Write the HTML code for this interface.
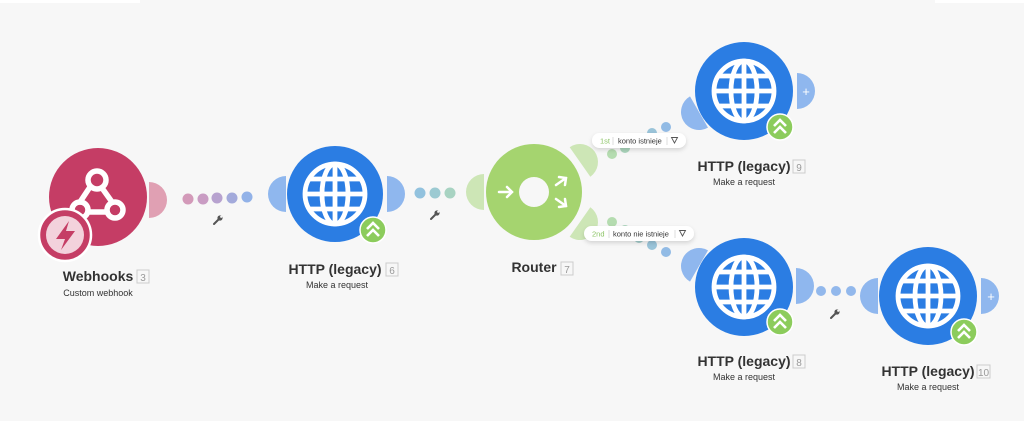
<!DOCTYPE html>
<html><head><meta charset="utf-8"><style>
html,body{margin:0;padding:0;background:#f7f7f7;}
svg{display:block;font-family:"Liberation Sans",sans-serif;}
</style></head><body>
<svg width="1024" height="421" viewBox="0 0 1024 421" xmlns="http://www.w3.org/2000/svg">
<defs>
<g id="globe" fill="none" stroke="#fff" stroke-width="4.8">
<circle r="30"/>
<ellipse rx="13" ry="30"/>
<line x1="0" y1="-30" x2="0" y2="30"/>
<line x1="-30" y1="0" x2="30" y2="0"/>
<line x1="-26" y1="-15" x2="26" y2="-15"/>
<line x1="-26" y1="15" x2="26" y2="15"/>
</g>
<g id="badge">
<circle r="13" fill="#8ccc5c" stroke="#fff" stroke-width="1.5"/>
<path d="M-6,-1 L0,-7 L6,-1 M-6,6 L0,0 L6,6" fill="none" stroke="#fff" stroke-width="2.6"/>
</g>
<g id="wrench"><path d="M-4,4 L1,-1" stroke="#555" stroke-width="2" stroke-linecap="round"/><circle cx="2" cy="-2" r="2.6" fill="#555"/><circle cx="3.2" cy="-3.2" r="1.1" fill="#f7f7f7"/></g>
<path id="ear" d="M0,-18 A18,18 0 0 1 0,18 Z"/>
<filter id="sh" x="-20%" y="-20%" width="140%" height="140%"><feDropShadow dx="0" dy="2" stdDeviation="2" flood-opacity="0.15"/></filter>
</defs>
<rect x="0" y="0" width="140" height="3" fill="#fff"/>
<rect x="935" y="0" width="89" height="3" fill="#fff"/>

<!-- Webhooks -->
<use href="#ear" transform="translate(149,200)" fill="#e0a0b3"/>
<circle cx="98" cy="197" r="49" fill="#c53d65"/>
<g fill="none" stroke="#fff" stroke-width="5.5" stroke-linecap="round">
<circle cx="97" cy="180" r="9"/><circle cx="80" cy="210" r="8"/><circle cx="115" cy="210" r="8"/>
<path d="M90,187 L80,202 M102,188 L112,202 M88,212 L106,212"/>
</g>
<circle cx="65" cy="235" r="26" fill="#c53d65" stroke="#fff" stroke-width="2.5"/>
<circle cx="65" cy="235" r="19" fill="#f3d2dc"/>
<path d="M69,221 L56,239 L65,239 L61,250 L75,231 L66,231 Z" fill="#c53d65"/>
<text x="98" y="281" text-anchor="middle" font-size="14" font-weight="bold" fill="#333">Webhooks</text>
<rect x="137" y="270" width="12" height="13" fill="none" stroke="#ccc"/><text x="143" y="281" text-anchor="middle" font-size="10" fill="#999">3</text>
<text x="98" y="296" text-anchor="middle" font-size="9" fill="#333">Custom webhook</text>
<g><circle cx="188" cy="199" r="5.5" fill="#d39ab9"/><circle cx="203" cy="199" r="5.5" fill="#c99cc3"/><circle cx="217" cy="198" r="5.5" fill="#b7a2cf"/><circle cx="232" cy="198" r="5.5" fill="#a3aadb"/><circle cx="247" cy="197" r="5.5" fill="#92b2e8"/></g>
<use href="#wrench" transform="translate(218,220)"/>

<!-- HTTP 6 -->
<use href="#ear" transform="translate(286,194) scale(-1,1)" fill="#8fb7ee"/>
<use href="#ear" transform="translate(387,194)" fill="#8fb7ee"/>
<circle cx="335" cy="194" r="48" fill="#2b7de3"/>
<use href="#globe" transform="translate(335,194)"/>
<use href="#badge" transform="translate(373,230)"/>
<text x="335" y="274" text-anchor="middle" font-size="14" font-weight="bold" fill="#333">HTTP (legacy)</text>
<rect x="386" y="263" width="12" height="13" fill="none" stroke="#ccc"/><text x="392" y="274" text-anchor="middle" font-size="10" fill="#999">6</text>
<text x="337" y="288" text-anchor="middle" font-size="9" fill="#333">Make a request</text>
<circle cx="420" cy="193" r="5.5" fill="#92c2de"/><circle cx="435" cy="193" r="5.5" fill="#9ccad2"/><circle cx="450" cy="193" r="5.5" fill="#a8d3c2"/>
<use href="#wrench" transform="translate(435,215)"/>

<!-- Router -->
<use href="#ear" transform="translate(484,192) scale(-1,1)" fill="#cde6b6"/>
<use href="#ear" transform="translate(580,162) rotate(-35)" fill="#cde6b6"/>
<use href="#ear" transform="translate(580,222) rotate(35)" fill="#cde6b6"/>
<circle cx="534" cy="192" r="48" fill="#a5d46f"/>
<circle cx="534" cy="192" r="15" fill="#f7f7f7"/>
<g fill="none" stroke="#fff" stroke-width="2.5" stroke-linecap="round">
<path d="M499,192 L512,192 M507,187 L512,192 L507,197"/>
<path d="M556,185 L566,178 M559,177 L566,178 L565,185"/>
<path d="M556,199 L566,206 M565,199 L566,206 L559,207"/>
</g>
<text x="534" y="272" text-anchor="middle" font-size="14" font-weight="bold" fill="#333">Router</text>
<rect x="561" y="262" width="12" height="13" fill="none" stroke="#ccc"/><text x="567" y="273" text-anchor="middle" font-size="10" fill="#999">7</text>

<circle cx="612" cy="154" r="5" fill="#b5dcb0"/><circle cx="625" cy="148" r="5" fill="#abd5bc"/><circle cx="638" cy="140" r="5" fill="#a3cccb"/><circle cx="652" cy="133" r="5" fill="#9ac4d9"/><circle cx="666" cy="127" r="5" fill="#92bbe5"/>
<circle cx="612" cy="222" r="5" fill="#b5dcb0"/><circle cx="625" cy="230" r="5" fill="#abd5bc"/><circle cx="639" cy="238" r="5" fill="#a3cccb"/><circle cx="652" cy="245" r="5" fill="#9ac4d9"/><circle cx="666" cy="252" r="5" fill="#92bbe5"/>

<g filter="url(#sh)"><rect x="592" y="133" width="94" height="15" rx="7.5" fill="#fff"/><rect x="584" y="226" width="110" height="15" rx="7.5" fill="#fff"/></g>
<text x="600" y="143.5" font-size="7.5" fill="#8cc466">1st</text><line x1="613" y1="137" x2="613" y2="145" stroke="#ddd"/>
<text x="618" y="143.5" font-size="7.5" fill="#333">konto istnieje</text><line x1="667" y1="137" x2="667" y2="145" stroke="#ddd"/>
<path d="M671.5,137.5 L677.5,137.5 L674.5,143 Z" fill="none" stroke="#555" stroke-width="0.9"/>
<text x="592" y="236.5" font-size="7.5" fill="#8cc466">2nd</text><line x1="609" y1="230" x2="609" y2="238" stroke="#ddd"/>
<text x="613" y="236.5" font-size="7.5" fill="#333">konto nie istnieje</text><line x1="675" y1="230" x2="675" y2="238" stroke="#ddd"/>
<path d="M679.5,230.5 L685.5,230.5 L682.5,236 Z" fill="none" stroke="#555" stroke-width="0.9"/>

<!-- HTTP 9 -->
<use href="#ear" transform="translate(699,112) rotate(150)" fill="#8fb7ee"/>
<use href="#ear" transform="translate(797,91)" fill="#8fb7ee"/>
<text x="806" y="96" text-anchor="middle" font-size="13" fill="#fff">+</text>
<circle cx="744" cy="91" r="49" fill="#2b7de3"/>
<use href="#globe" transform="translate(744,91)"/>
<use href="#badge" transform="translate(780,127)"/>
<text x="744" y="171" text-anchor="middle" font-size="14" font-weight="bold" fill="#333">HTTP (legacy)</text>
<rect x="793" y="160" width="12" height="13" fill="none" stroke="#ccc"/><text x="799" y="171" text-anchor="middle" font-size="10" fill="#999">9</text>
<text x="744" y="185" text-anchor="middle" font-size="9" fill="#333">Make a request</text>

<!-- HTTP 8 -->
<use href="#ear" transform="translate(699,266) rotate(210)" fill="#8fb7ee"/>
<use href="#ear" transform="translate(796,286)" fill="#8fb7ee"/>
<circle cx="744" cy="287" r="49" fill="#2b7de3"/>
<use href="#globe" transform="translate(744,287)"/>
<use href="#badge" transform="translate(780,322)"/>
<text x="744" y="366" text-anchor="middle" font-size="14" font-weight="bold" fill="#333">HTTP (legacy)</text>
<rect x="793" y="355" width="12" height="13" fill="none" stroke="#ccc"/><text x="799" y="366" text-anchor="middle" font-size="10" fill="#999">8</text>
<text x="744" y="380" text-anchor="middle" font-size="9" fill="#333">Make a request</text>
<circle cx="821" cy="291" r="5" fill="#92b8ec"/><circle cx="836" cy="291" r="5" fill="#92b8ec"/><circle cx="851" cy="291" r="5" fill="#92b8ec"/>
<use href="#wrench" transform="translate(835,314)"/>

<!-- HTTP 10 -->
<use href="#ear" transform="translate(878,296) scale(-1,1)" fill="#8fb7ee"/>
<use href="#ear" transform="translate(981,296)" fill="#8fb7ee"/>
<text x="991" y="301" text-anchor="middle" font-size="13" fill="#fff">+</text>
<circle cx="928" cy="296" r="49" fill="#2b7de3"/>
<use href="#globe" transform="translate(928,296)"/>
<use href="#badge" transform="translate(964,332)"/>
<text x="928" y="376" text-anchor="middle" font-size="14" font-weight="bold" fill="#333">HTTP (legacy)</text>
<rect x="977" y="365" width="13" height="13" fill="none" stroke="#ccc"/><text x="983.5" y="376" text-anchor="middle" font-size="10" fill="#999">10</text>
<text x="928" y="390" text-anchor="middle" font-size="9" fill="#333">Make a request</text>
</svg>
</body></html>
